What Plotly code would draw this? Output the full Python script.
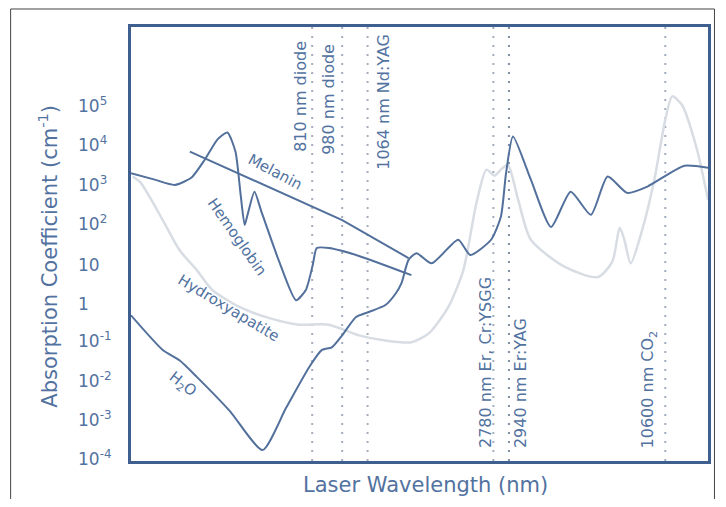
import math
import plotly.graph_objects as go

# Schematic wavelength axis: relative position 0-100 across the frame
hb_x = [0, 4.1, 7.6, 10.5, 12.8, 15.0, 16.7, 18.1, 19.0, 19.7, 20.2, 21.4, 22.6, 25.7, 28.6, 30.3, 31.5, 32.2, 34.3, 39.5, 48.6]
hb_y = [2.2e3, 1.5e3, 1.1e3, 1.7e3, 4.9e3, 1.6e4, 2.4e4, 7.8e3, 620, 105, 190, 740, 230, 12, 1.26, 2.3, 10, 27, 27, 17, 5.5]

mel_x = [10.2, 36.6, 48.1]
mel_y = [7.8e3, 140, 15]

h2o_x = [0, 5.5, 8.4, 11.4, 17.1, 22.8, 26.9, 30.9, 33.1, 34.8, 36.6, 39.0, 41.2, 44.1, 45.9, 46.9,
         48.1, 49.5, 52.1, 56.7, 58.8, 62.4, 64.1, 65.0, 66.2, 69.3, 72.8, 76.2, 79.7, 82.6, 86.0, 89.5, 95.9, 100]
h2o_y = [0.52, 0.068, 0.037, 0.014, 1.9e-3, 1.9e-4, 2.3e-3, 0.025, 0.068, 0.079, 0.16, 0.47, 0.63, 0.95, 1.9, 3.5,
         13.5, 20, 11, 44, 18, 44, 170, 2.2e3, 1.9e4, 1.5e3, 93, 740, 190, 1.8e3, 690, 1.0e3, 3.4e3, 3.0e3]

ha_x = [0.3, 1.6, 5.5, 8.4, 11.4, 14.1, 18.8, 24.0, 29.1, 34.3, 39.5, 43.8, 48.6, 51.6, 55.0, 57.6, 59.8,
        61.6, 63.0, 64.1, 65.3, 67.1, 69.3, 75.2, 80.9, 83.4, 84.7, 85.5, 86.6, 88.6, 90.7, 92.6, 93.8, 95.5, 98.1, 100]
ha_y = [1.8e3, 1.3e3, 140, 24, 7.4, 2.3, 0.85, 0.44, 0.30, 0.30, 0.16, 0.12, 0.107, 0.18, 0.85, 7.4, 340,
        2.7e3, 1.9e3, 2.7e3, 3.6e3, 460, 44, 8.9, 4.9, 12, 89, 44, 11, 79, 1.5e3, 5.1e4, 2.0e5, 1.2e5, 8.7e3, 460]

laser_x = [31.4, 36.6, 41.0, 62.8, 65.5, 92.6]
laser_labels = ["810 nm diode", "980 nm diode", "1064 nm Nd:YAG",
                "2780 nm Er, Cr:YSGG", "2940 nm Er:YAG", "10600 nm CO<sub>2</sub>"]

ytick_vals = [1e-4, 1e-3, 1e-2, 1e-1, 1, 10, 1e2, 1e3, 1e4, 1e5]
ytick_text = ["10<sup>-4</sup>", "10<sup>-3</sup>", "10<sup>-2</sup>", "10<sup>-1</sup>", "1", "10",
              "10<sup>2</sup>", "10<sup>3</sup>", "10<sup>4</sup>", "10<sup>5</sup>"]

curve_labels = ["Melanin", "Hemoglobin", "Hydroxyapatite", "H<sub>2</sub>O"]
curve_label_x = [25.0, 18.4, 16.9, 9.0]
curve_label_y = [2.4e3, 52, 0.79, 9.1e-3]

DARK = "#52709b"
LIGHT = "#d8dde3"
TXT = "#52729f"
FRAME = "#3f5f8f"
FONT = "DejaVu Sans"

fig = go.Figure()
fig.add_trace(go.Scatter(x=ha_x, y=ha_y, mode="lines", line=dict(color=LIGHT, width=2.5, shape="spline", smoothing=0.7), hoverinfo="skip"))
fig.add_trace(go.Scatter(x=mel_x, y=mel_y, mode="lines", line=dict(color=DARK, width=2), hoverinfo="skip"))
fig.add_trace(go.Scatter(x=hb_x, y=hb_y, mode="lines", line=dict(color=DARK, width=2, shape="spline", smoothing=0.6), hoverinfo="skip"))
fig.add_trace(go.Scatter(x=h2o_x, y=h2o_y, mode="lines", line=dict(color=DARK, width=2, shape="spline", smoothing=0.6), hoverinfo="skip"))

shapes = []
for i, lx in enumerate(laser_x):
    shapes.append(dict(type="line", xref="x", yref="paper", x0=lx, x1=lx, y0=0, y1=1,
                       line=dict(color="#7e8ea8" if i == 4 else "#a3adbd", width=2, dash="2px,7px"), layer="below"))
# outer thin border around the picture
shapes.append(dict(type="rect", xref="paper", yref="paper", x0=-0.2086, x1=1.0112, y0=-0.15, y1=1.0415,
                   line=dict(color="#444444", width=1)))

ann = []
# laser labels: offsets from their lines (px)
label_dx = [-12, -13, 16, -8, 11, -17]
label_top = [True, True, True, False, False, False]
label_py = [0.972, 0.965, 0.988, 0.025, 0.025, 0.025]
for lx, txt, dx, top, py in zip(laser_x, laser_labels, label_dx, label_top, label_py):
    ann.append(dict(x=lx, y=py, xref="x", yref="paper", text=txt, textangle=-90, showarrow=False,
                    xshift=dx, xanchor="center", yanchor="top" if top else "bottom",
                    font=dict(family=FONT, size=16, color=TXT)))

for tv, tt in zip(ytick_vals, ytick_text):
    ann.append(dict(x=-0.0948, y=math.log10(tv), xref="paper", yref="y", text=tt, showarrow=False,
                    xanchor="left", yanchor="middle", yshift=3 if "sup" in tt else 0,
                    font=dict(family=FONT, size=17, color=TXT)))

angles = [28, 55, 31, 38]
for t, cx, cy, a in zip(curve_labels, curve_label_x, curve_label_y, angles):
    ann.append(dict(x=cx, y=math.log10(cy), xref="x", yref="y", text=t, textangle=a, showarrow=False,
                    font=dict(family=FONT, size=15, color=TXT)))

ann.append(dict(x=0.511, y=-0.0553, xref="paper", yref="paper", text="Laser Wavelength (nm)", showarrow=False,
                xanchor="center", yanchor="middle", font=dict(family=FONT, size=21, color=TXT)))
ann.append(dict(x=-0.143, y=0.472, xref="paper", yref="paper", text="Absorption Coefficient (cm<sup>-1</sup>)",
                textangle=-90, showarrow=False, xanchor="center", yanchor="middle",
                font=dict(family=FONT, size=21, color=TXT)))

# the page body adds an 8px offset; size the figure so the whole page fits the window
fig.update_layout(
    width=710, height=491,
    margin=dict(l=123, r=7, t=19, b=38),
    paper_bgcolor="white", plot_bgcolor="white",
    showlegend=False,
    shapes=shapes, annotations=ann,
    xaxis=dict(range=[0, 100], showticklabels=False, ticks="", showgrid=False, zeroline=False,
               showline=True, mirror=True, linecolor=FRAME, linewidth=3),
    yaxis=dict(type="log", range=[-4, 7.07], showticklabels=False, ticks="", showgrid=False, zeroline=False,
               showline=True, mirror=True, linecolor=FRAME, linewidth=3),
)
fig.write_html("out.html")
